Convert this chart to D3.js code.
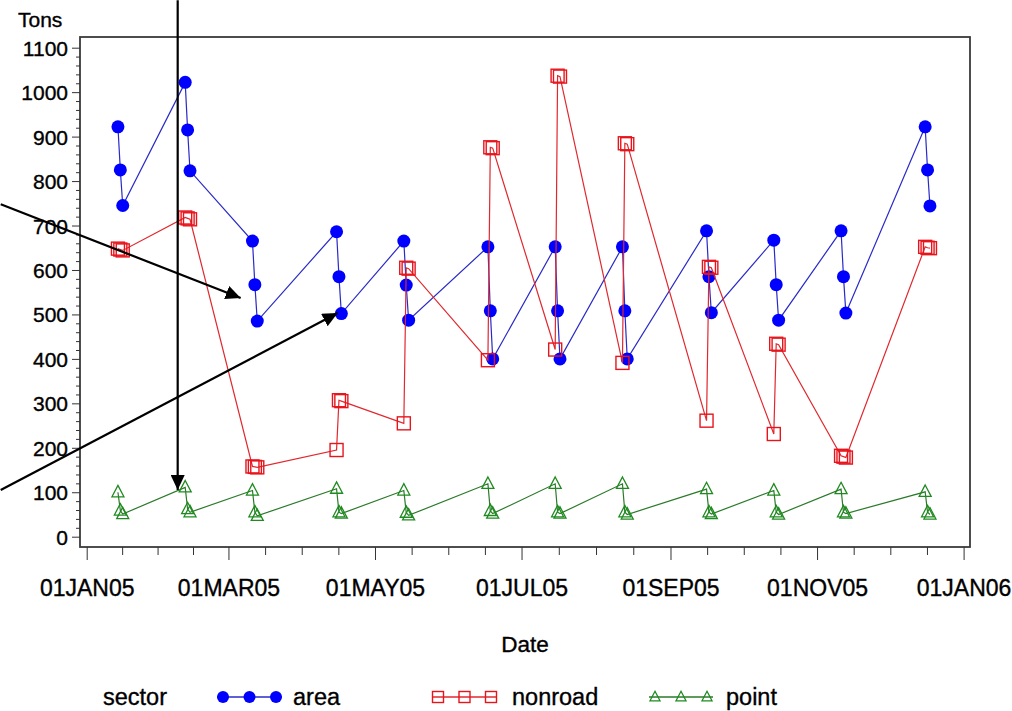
<!DOCTYPE html>
<html lang="en">
<head>
  <meta charset="UTF-8">
  <script src="https://d3js.org/d3.v7.min.js" charset="utf-8"></script>
  <title>Tons by Date</title>
  <style>
    body { margin: 0; background: #fff; }
    svg text { font-family: "Liberation Sans", Arial, sans-serif; fill: #000; stroke: #000; stroke-width: 0.35px; }
  </style>
</head>
<body>
  <div class="chart"></div>
  <script>
    // three consecutive days (Fri, Sat, Sun) in the middle of each month
    const dates = [
      "2005-01-14", "2005-01-15", "2005-01-16",
      "2005-02-11", "2005-02-12", "2005-02-13",
      "2005-03-11", "2005-03-12", "2005-03-13",
      "2005-04-15", "2005-04-16", "2005-04-17",
      "2005-05-13", "2005-05-14", "2005-05-15",
      "2005-06-17", "2005-06-18", "2005-06-19",
      "2005-07-15", "2005-07-16", "2005-07-17",
      "2005-08-12", "2005-08-13", "2005-08-14",
      "2005-09-16", "2005-09-17", "2005-09-18",
      "2005-10-14", "2005-10-15", "2005-10-16",
      "2005-11-11", "2005-11-12", "2005-11-13",
      "2005-12-16", "2005-12-17", "2005-12-18"
    ];
    const area = [922, 825, 745, 1022, 915, 823, 665, 567, 485, 686, 585, 502,
                  665, 566, 487, 652, 508, 400, 652, 508, 400, 652, 508, 400,
                  688, 585, 504, 667, 567, 487, 688, 585, 503, 922, 825, 744];
    const nonroad = [648, 646, 644, 718, 716, 714, 158, 157, 156, 195, 307, 305,
                     255, 605, 603, 397, 876, 874, 421, 1037, 1035, 391, 885, 883,
                     261, 607, 605, 231, 434, 432, 182, 180, 178, 652, 650, 649];
    const point = [100, 59, 51, 111, 62, 55, 104, 55, 47, 108, 55, 52,
                   104, 54, 48, 119, 58, 52, 119, 55, 52, 119, 55, 50,
                   107, 55, 51, 104, 55, 50, 107, 55, 52, 101, 55, 50];
    const sectors = ["area", "nonroad", "point"];
    const xTickDates = ["2005-01-01", "2005-03-01", "2005-05-01", "2005-07-01",
                        "2005-09-01", "2005-11-01", "2006-01-01"];
    const yTicks = [0, 100, 200, 300, 400, 500, 600, 700, 800, 900, 1000, 1100];
    // annotation arrows, in data space (start points lie outside the plot)
    const arrows = [
      { from: ["2005-02-07T21:00", 1207], to: ["2005-02-07T21:00", 105] },
      { from: ["2004-11-26T05:00", 748], to: ["2005-03-06T02:00", 537] },
      { from: ["2004-11-26T05:00", 105], to: ["2005-04-15T11:00", 503] }
    ];

    const W = 1012, H = 711;
    const frame = { left: 80, top: 37, right: 970, bottom: 547 };
    const parse = d3.isoParse;
    const fmt = d => d3.timeFormat("%d%b%y")(d).toUpperCase();

    const svg = d3.select(".chart").append("svg").attr("width", W).attr("height", H);

    svg.append("defs").append("marker")
      .attr("id", "head").attr("markerUnits", "userSpaceOnUse")
      .attr("viewBox", "0 -7 15 14").attr("refX", 15).attr("refY", 0)
      .attr("markerWidth", 15).attr("markerHeight", 14).attr("orient", "auto")
      .append("path").attr("d", "M0,-7L15,0L0,7Z").attr("fill", "#000");

    const x = d3.scaleTime().domain([parse("2005-01-01"), parse("2006-01-01")]).range([86.7, 963.6]);
    const y = d3.scaleLinear().domain([0, 1100]).range([536.7, 47.7]);

    svg.append("rect")
      .attr("x", frame.left).attr("y", frame.top)
      .attr("width", frame.right - frame.left).attr("height", frame.bottom - frame.top)
      .attr("fill", "none").attr("stroke", "#3a3a3a").attr("stroke-width", 1.8);

    // y axis: majors every 100, minors every 20
    const yMinor = d3.range(0, 1101, 20).filter(v => v % 100 !== 0);
    const gy = svg.append("g").attr("transform", `translate(${frame.left},0)`);
    gy.call(d3.axisLeft(y).tickValues(yTicks).tickFormat(d3.format("d")).tickSize(8).tickSizeOuter(0).tickPadding(4))
      .call(g => g.select(".domain").remove());
    gy.selectAll("text").attr("font-size", 21).attr("font-family", null).attr("dy", "0.36em");
    gy.selectAll("line").attr("stroke", "#333");
    const gyMinor = svg.append("g").attr("transform", `translate(${frame.left},0)`);
    gyMinor.call(d3.axisLeft(y).tickValues(yMinor).tickSize(4).tickFormat(""))
      .call(g => g.select(".domain").remove());
    gyMinor.selectAll("line").attr("stroke", "#333");

    // x axis: majors every two months, three minors between them
    const majors = xTickDates.map(parse);
    const xMinor = [];
    for (let i = 0; i < majors.length - 1; i++) {
      const t0 = +majors[i], t1 = +majors[i + 1];
      for (let k = 1; k < 4; k++) xMinor.push(new Date(t0 + (t1 - t0) * k / 4));
    }
    const gx = svg.append("g").attr("transform", `translate(0,${frame.bottom})`);
    gx.call(d3.axisBottom(x).tickValues(majors).tickFormat(fmt).tickSize(13).tickSizeOuter(0).tickPadding(20))
      .call(g => g.select(".domain").remove());
    gx.selectAll("text").attr("font-size", 23).attr("font-family", null);
    gx.selectAll("line").attr("stroke", "#333");
    const gxMinor = svg.append("g").attr("transform", `translate(0,${frame.bottom})`);
    gxMinor.call(d3.axisBottom(x).tickValues(xMinor).tickSize(8).tickFormat(""))
      .call(g => g.select(".domain").remove());
    gxMinor.selectAll("line").attr("stroke", "#333");

    svg.append("text").attr("x", 18).attr("y", 27).attr("font-size", 21).text("Tons");
    svg.append("text").attr("x", 525).attr("y", 652).attr("text-anchor", "middle")
      .attr("font-size", 22.5).text("Date");

    // marker shapes
    const colors = { area: "#0000ff", nonroad: "#e8141c", point: "#1f8a1f" };
    const lineColors = { area: "#2a2ac8", nonroad: "#e0282e", point: "#2a7a2a" };
    const drawMarker = (g, name, cx, cy, s) => {
      if (name === "area") {
        g.append("circle").attr("cx", cx).attr("cy", cy).attr("r", s / 2).attr("fill", colors.area);
      } else if (name === "nonroad") {
        g.append("rect").attr("x", cx - s / 2).attr("y", cy - s / 2).attr("width", s).attr("height", s)
          .attr("fill", "none").attr("stroke", colors.nonroad).attr("stroke-width", 1.4);
      } else {
        const h = s * 0.95;
        g.append("path")
          .attr("d", `M${cx},${cy - h * 0.6}L${cx + s / 2},${cy + h * 0.4}L${cx - s / 2},${cy + h * 0.4}Z`)
          .attr("fill", "none").attr("stroke", colors.point).attr("stroke-width", 1.3);
      }
    };

    const series = { area, nonroad, point };
    const line = d3.line().x(d => x(d.date)).y(d => y(d.value));
    sectors.forEach(name => {
      const pts = dates.map((d, i) => ({ date: parse(d), value: series[name][i] }));
      const g = svg.append("g").attr("class", "series-" + name);
      g.append("path").datum(pts).attr("d", line)
        .attr("fill", "none").attr("stroke", lineColors[name]).attr("stroke-width", 1.2);
      const size = name === "area" ? 13 : (name === "nonroad" ? 13 : 12);
      pts.forEach(p => drawMarker(g, name, x(p.date), y(p.value), size));
    });

    // annotation arrows on top
    svg.append("g").selectAll("line").data(arrows).join("line")
      .attr("x1", d => x(parse(d.from[0]))).attr("y1", d => y(d.from[1]))
      .attr("x2", d => x(parse(d.to[0]))).attr("y2", d => y(d.to[1]))
      .attr("stroke", "#000").attr("stroke-width", 2.2).attr("marker-end", "url(#head)");

    // legend
    const legendY = 697;
    const lg = svg.append("g");
    lg.append("text").attr("x", 103).attr("y", 705).attr("font-size", 23.5).text("sector");
    const legendItems = [
      { name: "area", x0: 217, x1: 282, marks: [223, 249.5, 276], size: 12, label: 293 },
      { name: "nonroad", x0: 432, x1: 497, marks: [438, 464.5, 491], size: 11, label: 512 },
      { name: "point", x0: 649, x1: 713, marks: [655, 681, 707], size: 10, label: 726 }
    ];
    legendItems.forEach(it => {
      lg.append("line").attr("x1", it.x0).attr("x2", it.x1).attr("y1", legendY).attr("y2", legendY)
        .attr("stroke", lineColors[it.name]).attr("stroke-width", 1.3);
      it.marks.forEach(mx => drawMarker(lg, it.name, mx, legendY, it.size));
      lg.append("text").attr("x", it.label).attr("y", 705).attr("font-size", 23.5).text(it.name);
    });
  </script>
</body>
</html>
